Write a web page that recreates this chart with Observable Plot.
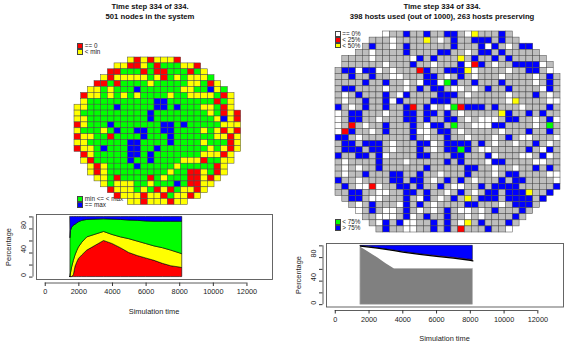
<!DOCTYPE html>
<html><head><meta charset="utf-8">
<script src="https://cdn.jsdelivr.net/npm/d3@7"></script>
<script src="https://cdn.jsdelivr.net/npm/@observablehq/plot@0.6"></script>
<style>
body{margin:0;background:#fff;font-family:"Liberation Sans",Arial,Helvetica,sans-serif;color:#111;}
#root{position:relative;width:581px;height:351px;overflow:hidden;background:#fff;}
.t{position:absolute;white-space:nowrap;}
.title{font-weight:bold;font-size:7.7px;line-height:10px;text-align:center;transform:translateX(-50%);}
.lg{font-size:6.3px;line-height:6px;height:6px;color:#222;}
.box{position:absolute;width:6px;height:5.8px;box-sizing:border-box;border:0.6px solid #444;}
.ax{font-size:7.4px;line-height:9px;transform:translate(-50%,-50%);color:#222;}
.axr{font-size:7.4px;line-height:9px;transform:translate(-50%,-50%) rotate(-90deg);color:#222;}
svg{position:absolute;}
</style></head>
<body><div id="root"></div>
<script>
// ---------- DATA ----------
const stateKeys   = ["R", "Y", "G", "B", "W", "-"];
const stateColors = ["#ff0000", "#ffff00", "#00ff00", "#0000ff", "#ffffff", "#bebebe"];

// left grid: node states (R: ==0, Y: <min, G: min<=<max, B: ==max)
const leftGrid = [
"........YRYRYYYR.........",
"......YYRRYGRGGGYYR......",
".....RRGGGRGRRGGGRGY.....",
"....YRYYYYYGYRGYGYYYG....",
"...RRGRGGGGYGGGGGYYGRY...",
"..YYGYGGGBGGGGGGYYGGBYG..",
".RYYGYGYGYGGGGYGGYYYYGRY.",
".YGGGGGGGGGGBBGGGGGGGRGY.",
"YYGGGGBGGGGGBBGBGGGYYGRY.",
"YGGGGGGGGGGBGGGGGGGGYGRYR",
"YYGGGGGGGGGBGGGGGGGGGYBYR",
"RYGGGBGGGGGGGBBGBGGGGGYYY",
"YGGGYGBGGBBGGBBGGGGYGYRYR",
"RYYGGRGGGGBGGGBGGGGGGYYRY",
"YYGGGGGGBBGGGGBGGGGYGGGRY",
"RYYGBGGGBBGGBGGGGGGGYGYRY",
".RYGGGGGBBGBGGGGGGGYYYRY.",
".YRGGGGGBGGBGGGGYYYRGGYY.",
"..YRYGGGGBGGGGGYGGGGGRY..",
"..YRYGGGGGGGGGYGGRRYGRY..",
"...YYGRGGGGRGYGGGRRYRY...",
"....YGYYYGGYGGGBGRRYY....",
".....RYYYGYGRYRGYYRY.....",
"......RYYYRYYRGYYRY......",
"........YYRYYYRYY........"
];

// right grid: host usage (-: unused, W: ==0%, R: <25%, Y: <50%, G: <75%, B: >75%)
const rightGrid = [
".......W--B--B--BB-WY---B-.......",
".....---W----Y-W-B--BBB-B--......",
"....-B--W-B------B---BWB-W-BB....",
"...--W----B----BB--W-BB-B-----...",
".----W-----WB-B---Y-B--B-B-----..",
".------W---B--W---BWRB-W--BBBBW-.",
"-BBWBBW-W---RB--BBBYW----W--BB-W.",
"--B--B--WW---BB-W-B-W---W----W-B-",
"----B--B--W-WBBWGB--B---B----W-B-",
"-BB----W--W-B-BB-WW-W-B--B----WB-",
"-W-B---B-WB----BBB-W-----W---B-W-",
"-W--B--BWB----BBB--------WY----WW",
"B-W-B--B--BR-BW-WGRBBB-B---W---B-",
"W-BB---W--BB-BB-B-W-----YB--B-B--",
"W-BB--W---BB-B--BB-W-WWW-BB--W-BW",
"W-R-W--B---B-WBB-G--WWWBB----W-G-",
"WRB--W-B---BWW-BB-W-----W---B--B-",
"BB-W-------B-W--B--W---W-B-WW---W",
"-BB-BBB-W---BBW-BBBB-B-W--W--B-W-",
"-BBB-BB-W---B-W-BBGB-WW-----B-WB-",
"B--BB-BW----BB---BB---BW---WW-BW-",
"-W----B---W-----B-B---WBB----WW--",
"-W-W--B------B-----BB--W--W--B-B-",
"-W--B---BB--B--W---B---W-BB----WW",
"B--W----BB-BB-W-B-B-W---B-BB----W",
"-B-WWRW--BB-B--B-WW--B-BBBB-----B",
"--BB--WW--BB-B--W-B-W-BB-BBBY--B.",
".-BB-WW---B-WB-W-B-Y-BBB-BBBB-B..",
"..-W-B---WB-B-W----BB---W-BBB-...",
"...W-B-WW-B-W-W-B-WW-W-B---B-....",
"....--WWW-BW-B--B--W-W----B-.....",
".....-WB-BWW--B-B-WY-B---B-......",
"......-B--WW--B-B-R---B--W......."
];

// left time series (cumulative percentage boundaries)
const timeL      = [1500, 1530, 1600, 1700, 1800, 1900, 2000, 2200, 2500, 3000, 3500, 3700, 4000, 4500, 5000, 5500, 6000, 6500, 7000, 7500, 8000, 8150];
const redTopL    = [0, 0, 0, 3, 17, 24, 30, 36, 44, 52, 60, 58, 55, 48, 40, 35, 31, 27, 22, 18, 16, 15];
const yellowTopL = [0, 6, 16, 27, 36, 43, 49, 57, 66, 70.5, 75, 73, 70, 66, 63, 59, 55, 51, 48, 44, 39.5, 38];
const greenTopL  = [65, 77, 82, 85.5, 87, 89, 91, 93.5, 95, 95.5, 96, 95.8, 95.5, 95, 94, 93.5, 92.5, 92, 92, 92, 92, 92];

// right time series (cumulative percentage boundaries)
const timeR     = [1500, 2000, 2500, 3000, 3500, 4000, 5000, 6000, 7000, 8000, 8150];
const grayTopR  = [98, 89, 80, 70, 61, 61, 61, 61, 61, 61, 61];
const whiteTopR = [99.5, 98, 96, 94, 92, 89.5, 85.5, 82, 79, 75.5, 74.5];
const redTopR   = [99.5, 98, 96, 94, 92, 89.7, 85.9, 82.6, 79.8, 76.5, 75.5];

const xTicks  = [0, 2000, 4000, 6000, 8000, 10000, 12000];
const yTicks  = [0, 20, 40, 60, 80, 100];
const yLabels = [0, 40, 80];
const xDomain = [-520, 13520];
const yDomain = [-4, 104];

// ---------- DRAW ----------
const root = document.getElementById("root");
function put(el, left, top) { el.style.left = left + "px"; el.style.top = top + "px"; root.appendChild(el); return el; }
function txt(cls, s, left, top) { const d = document.createElement("div"); d.className = "t " + cls; d.textContent = s; return put(d, left, top); }
function box(color, left, top) { const d = document.createElement("div"); d.className = "box"; d.style.background = color; return put(d, left, top); }
const col = k => stateColors[stateKeys.indexOf(k)];

// legends (drawn first: grid cells sit on top of them)
box(col("R"), 77.3, 43.3); box(col("Y"), 77.3, 49.1);
txt("lg", "== 0", 84.8, 43.2); txt("lg", "< min", 84.8, 49.1);
box(col("G"), 77.3, 196); box(col("B"), 77.3, 201.8);
txt("lg", "min <= < max", 84.8, 196); txt("lg", "== max", 84.8, 201.8);

box(col("W"), 335, 31); box(col("R"), 335, 36.8); box(col("Y"), 335, 42.6);
txt("lg", "== 0%", 342.3, 30.9); txt("lg", "< 25%", 342.3, 36.7); txt("lg", "< 50%", 342.3, 42.5);
box(col("G"), 335, 219.3); box(col("B"), 335, 225.1);
txt("lg", "< 75%", 342.3, 219.2); txt("lg", "> 75%", 342.3, 225);

function gridPlot(rows, o) {
  const cells = [];
  rows.forEach((s, r) => [...s].forEach((ch, c) => { if (ch !== ".") cells.push({r, c, k: ch}); }));
  const n = rows.length;
  return Plot.plot({
    width: o.w, height: o.h, marginLeft: o.ml, marginRight: o.mr, marginTop: o.mt, marginBottom: o.mb,
    style: {background: "transparent", overflow: "visible"},
    x: {type: "band", domain: d3.range(n), padding: 0, round: false, axis: null},
    y: {type: "band", domain: d3.range(n), padding: 0, round: false, axis: null},
    color: {domain: stateKeys, range: stateColors},
    marks: [Plot.cell(cells, {x: "c", y: "r", fill: "k", inset: 0, stroke: "#4a4a4a", strokeWidth: 0.5})]
  });
}
put(gridPlot(leftGrid, {w: 290, h: 215, ml: 74, mr: 49.3, mt: 57, mb: 10.5}), 0, 0);
put(gridPlot(rightGrid, {w: 291, h: 240, ml: 45, mr: 21, mt: 31, mb: 8}), 290, 0);

function axisMarks() {
  return [
    Plot.ruleY([yDomain[0]], {y: d => d, x1: xTicks[0], x2: xTicks[xTicks.length - 1], dy: 3.5, stroke: "#333", strokeWidth: 0.8}),
    Plot.axisX(xTicks, {anchor: "bottom", tickSize: 3.5, dy: 3.5, tickPadding: 2.5, fontSize: 7.3, stroke: "#333", fill: "#222", label: null, tickFormat: d => String(d)}),
    Plot.ruleX([xDomain[0]], {x: d => d, y1: yTicks[0], y2: yTicks[yTicks.length - 1], dx: -3.5, stroke: "#333", strokeWidth: 0.8}),
    Plot.axisY(yTicks, {anchor: "left", tickSize: 3.5, dx: -3.5, stroke: "#333", label: null, tickFormat: () => ""}),
    Plot.text(yLabels, {y: d => d, text: d => String(d), frameAnchor: "left", dx: -12.5, rotate: -90, fontSize: 7.3, fill: "#222"}),
    Plot.frame({stroke: "#555", strokeWidth: 0.9})
  ];
}
function areaPlot(o, marks) {
  return Plot.plot({
    width: o.w, height: o.h, marginLeft: 36, marginRight: 18, marginTop: 9, marginBottom: o.mb,
    style: {background: "transparent", overflow: "visible", fontFamily: "Liberation Sans, Arial, sans-serif", fontSize: "7.3px"},
    x: {domain: xDomain, axis: null, label: null},
    y: {domain: yDomain, axis: null, label: null},
    marks: [...marks, ...axisMarks()]
  });
}

const L = timeL.map((t, i) => ({t, red: redTopL[i], yellow: yellowTopL[i], green: greenTopL[i]}));
const sL = {stroke: "#000", strokeWidth: 0.6};
put(areaPlot({w: 290, h: 146, mb: 72}, [
  Plot.areaY(L, {x: "t", y1: 0, y2: "red", fill: "#ff0000", ...sL}),
  Plot.areaY(L, {x: "t", y1: "red", y2: "yellow", fill: "#ffff00", ...sL}),
  Plot.areaY(L, {x: "t", y1: "yellow", y2: "green", fill: "#00ff00", ...sL}),
  Plot.areaY(L, {x: "t", y1: "green", y2: 100, fill: "#0000ff", ...sL})
]), 0, 205);

const R = timeR.map((t, i) => ({t, gray: grayTopR[i], white: whiteTopR[i], red: redTopR[i]}));
put(areaPlot({w: 291, h: 117, mb: 44.5}, [
  Plot.areaY(R, {x: "t", y1: 0, y2: "gray", fill: "#808080", stroke: "#999", strokeWidth: 0.5}),
  Plot.areaY(R, {x: "t", y1: "gray", y2: "white", fill: "#ffffff"}),
  Plot.areaY(R, {x: "t", y1: "white", y2: "red", fill: "#ff0000"}),
  Plot.areaY(R, {x: "t", y1: "red", y2: 100, fill: "#0000ff", stroke: "#000", strokeWidth: 0.5}),
  Plot.lineY(R, {x: "t", y: "white", stroke: "#000", strokeWidth: 1.3})
]), 290, 234);

// titles and axis titles
txt("title", "Time step 334 of 334.", 150, 1.6);
txt("title", "501 nodes in the system", 150, 11.6);
txt("title", "Time step 334 of 334.", 442, 1.6);
txt("title", "398 hosts used (out of 1000), 263 hosts preserving", 442, 11.6);
txt("ax", "Simulation time", 154, 311);
txt("ax", "Simulation time", 444.5, 338.3);
txt("axr", "Percentage", 7.5, 246.5);
txt("axr", "Percentage", 297.5, 275);
</script>
</body></html>
